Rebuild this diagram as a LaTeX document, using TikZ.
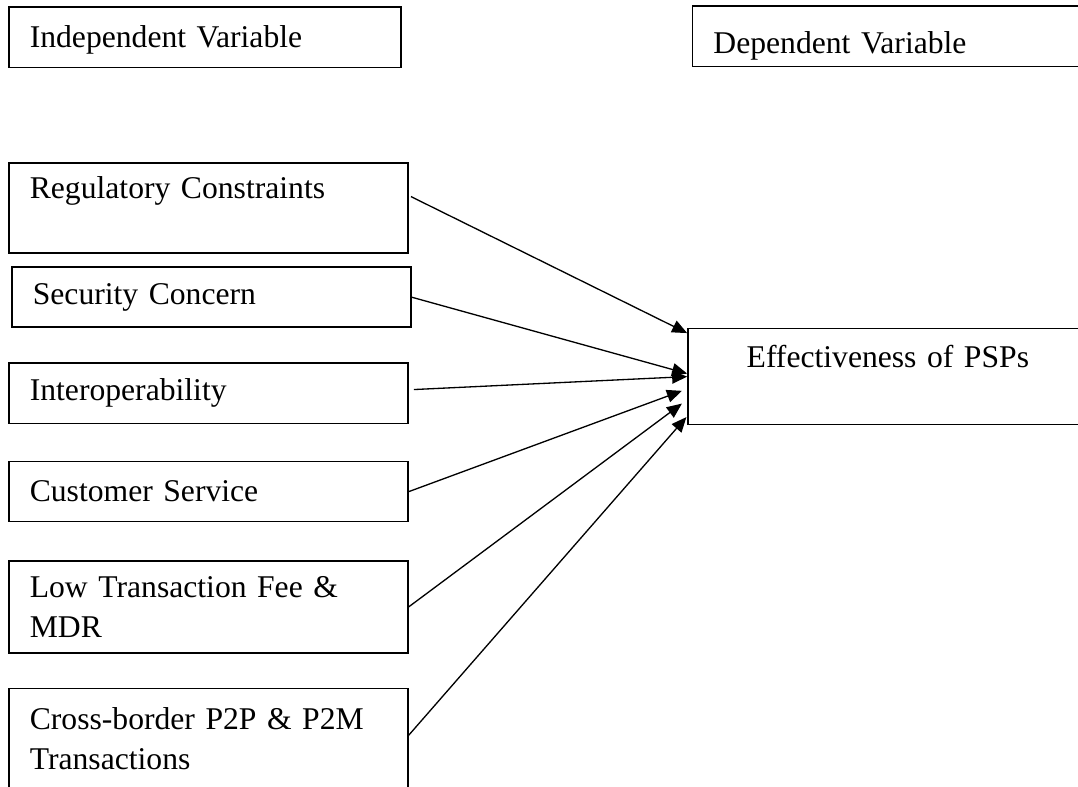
\documentclass[tikz,border=0pt]{standalone}
\usepackage{fontspec}
\setmainfont{Liberation Serif}
\usepackage{tikz}
\usetikzlibrary{arrows.meta,positioning}

\begin{document}
\begin{tikzpicture}[
    varbox/.style={rectangle, draw=black, line width=0.6pt, align=left,
                   inner xsep=0.28cm, inner ysep=0pt,
                   font=\fontsize{12pt}{15.2pt}\selectfont},
    leftbox/.style={varbox, minimum width=5.32cm, text width=4.76cm, minimum height=#1},
    arrow/.style={-{Triangle[length=0.2cm,width=0.17cm]}, line width=0.5pt},
    node distance=0.5cm
]
\useasboundingbox (0,0) rectangle (14.37,-10.48);
\clip (0,0) rectangle (14.37,-10.48);

% headings
\node[varbox, anchor=north west, minimum width=5.23cm, text width=4.67cm, minimum height=0.81cm,
      text height=10.6pt, text depth=2.6pt] (indep) at (0.107,-0.08) {Independent Variable};
\node[varbox, anchor=north west, minimum width=5.33cm, text width=4.77cm, minimum height=0.81cm,
      text height=15.8pt, text depth=2.6pt] (dep) at (9.22,-0.067) {Dependent Variable};

% independent variables
\node[leftbox=1.20cm, anchor=north west] (reg) at (0.107,-2.16) {Regulatory Constraints\\ \mbox{}};
\node[leftbox=0.80cm, below=0.17cm of reg, xshift=0.04cm] (sec) {Security Concern};
\node[leftbox=0.80cm, below=0.46cm of sec, xshift=-0.04cm] (int) {Interoperability};
\node[leftbox=0.80cm, below=0.49cm of int] (cus) {Customer Service};
\node[leftbox=1.23cm, below=0.50cm of cus] (low) {Low Transaction Fee \&\\ MDR};
\node[leftbox=1.33cm, below=0.45cm of low] (cross) {Cross-border P2P \& P2M\\ Transactions};

% dependent variable
\node[varbox, align=center, anchor=north west, minimum width=5.33cm, text width=4.77cm, minimum height=1.28cm] (eff) at (9.16,-4.37) {Effectiveness of PSPs\\ \mbox{}};

% arrow tips on the left side of eff
\coordinate (t1) at ([yshift=-0.07cm]eff.north west);
\coordinate (t2) at ([yshift=-0.61cm]eff.north west);
\coordinate (t3) at ([yshift=-0.65cm]eff.north west);
\coordinate (t4) at ([xshift=-0.07cm,yshift=-0.84cm]eff.north west);
\coordinate (t5) at ([xshift=-0.07cm,yshift=-1.01cm]eff.north west);
\coordinate (t6) at ([xshift=-0.01cm,yshift=-1.19cm]eff.north west);

\draw[arrow] ([xshift=0.03cm,yshift=0.15cm]reg.east) -- (t1);
\draw[arrow] (sec.east) -- (t2);
\draw[arrow] ([xshift=0.07cm,yshift=0.05cm]int.east) -- (t3);
\draw[arrow] (cus.east) -- (t4);
\draw[arrow] (low.east) -- (t5);
\draw[arrow] ([yshift=0.04cm]cross.east) -- (t6);
\end{tikzpicture}
\end{document}
